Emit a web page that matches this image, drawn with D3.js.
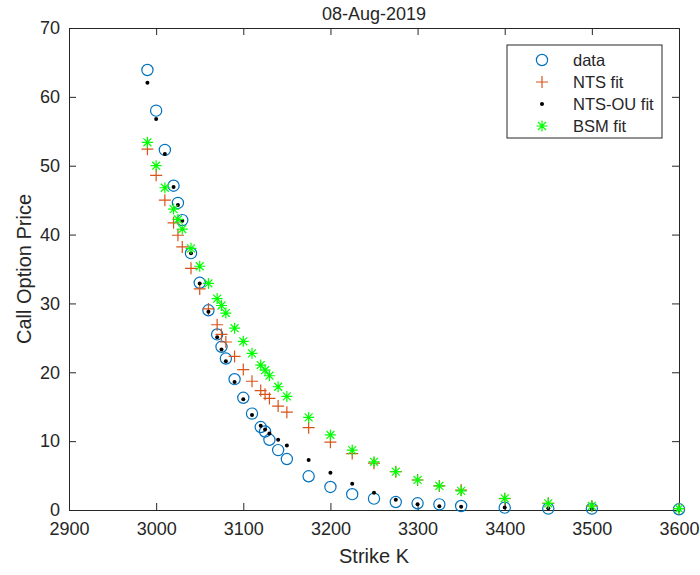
<!DOCTYPE html>
<html>
<head>
<meta charset="utf-8">
<script src="https://cdn.jsdelivr.net/npm/d3@7"></script>
<style>
  body { margin: 0; background: #fff; }
  text { font-family: "Liberation Sans", Arial, sans-serif; fill: #262626; }
</style>
</head>
<body>
<div id="chart"></div>
<script>
// strikes and prices
var strikes = [2990, 3000, 3010, 3020, 3025, 3030, 3040, 3050, 3060, 3070, 3075, 3080,
  3090, 3100, 3110, 3120, 3125, 3130, 3140, 3150, 3175, 3200, 3225, 3250, 3275, 3300,
  3325, 3350, 3400, 3450, 3500, 3600]
var dataPrice = [63.9, 58.0, 52.3, 47.1, 44.6, 42.1, 37.3, 33.0, 29.0, 25.5, 23.7, 22.0,
  19.0, 16.3, 14.0, 12.05, 11.4, 10.2, 8.7, 7.4, 4.9, 3.35, 2.3, 1.65, 1.16, 0.97,
  0.82, 0.58, 0.34, 0.2, 0.2, 0.1]
var ntsFit = [52.4, 48.6, 45.0, 41.7, 39.9, 38.2, 35.1, 32.1, 29.2, 26.9, 25.5, 24.4,
  22.3, 20.4, 18.7, 17.35, 16.8, 16.2, 15.1, 14.2, 11.95, 9.85, 8.2, 6.8, 5.57, 4.36,
  3.49, 2.9, 1.65, 0.97, 0.58, 0.19]
var ntsOuFit = [62.05, 56.8, 51.7, 46.9, 44.3, 42.0, 37.3, 32.9, 28.8, 25.1, 23.3, 21.6,
  18.6, 16.1, 13.8, 12.25, 11.7, 11.1, 10.2, 9.35, 7.25, 5.4, 3.8, 2.5, 1.5, 0.82,
  0.53, 0.48, 0.38, 0.24, 0.19, 0.05]
var bsmFit = [53.4, 50.0, 46.8, 43.7, 42.2, 40.8, 38.0, 35.4, 32.9, 30.7, 29.7, 28.6,
  26.4, 24.5, 22.75, 21.05, 20.3, 19.5, 17.9, 16.5, 13.45, 10.9, 8.7, 7.0, 5.57, 4.36,
  3.49, 2.78, 1.7, 0.97, 0.58, 0.19]
var xTicks = [2900, 3000, 3100, 3200, 3300, 3400, 3500, 3600]
var yTicks = [0, 10, 20, 30, 40, 50, 60, 70]
var legendNames = ["data", "NTS fit", "NTS-OU fit", "BSM fit"]

var W = 700, H = 575
var margin = {top: 28, right: 21, bottom: 65, left: 69}
var iw = W - margin.left - margin.right
var ih = H - margin.top - margin.bottom
var axisColor = "#262626"

var svg = d3.select("#chart").append("svg")
  .attr("width", W).attr("height", H)

var g = svg.append("g")
  .attr("transform", "translate(" + margin.left + "," + margin.top + ")")

var x = d3.scaleLinear().domain([2900, 3600]).range([0, iw])
var y = d3.scaleLinear().domain([0, 70]).range([ih, 0])

// axes with inward ticks on all 4 sides (matlab box on)
function styleAxis(sel) {
  sel.select(".domain").attr("stroke", axisColor)
  sel.selectAll(".tick line").attr("stroke", axisColor)
  sel.selectAll(".tick text").style("font-size", "18px").attr("fill", axisColor)
}
g.append("g").attr("transform", "translate(0," + ih + ")")
  .call(d3.axisBottom(x).tickValues(xTicks).tickFormat(d3.format("d"))
    .tickSize(-7).tickPadding(12).tickSizeOuter(0))
  .call(styleAxis)
g.append("g")
  .call(d3.axisLeft(y).tickValues(yTicks).tickSize(-7).tickPadding(9).tickSizeOuter(0))
  .call(styleAxis)
g.append("g")
  .call(d3.axisTop(x).tickValues(xTicks).tickSize(-7).tickSizeOuter(0).tickFormat(""))
  .call(styleAxis)
g.append("g").attr("transform", "translate(" + iw + ",0)")
  .call(d3.axisRight(y).tickValues(yTicks).tickSize(-7).tickSizeOuter(0).tickFormat(""))
  .call(styleAxis)

// marker painters
var blue = "#0072BD", orange = "#D95319", green = "#00FF00"
function drawCircle(sel, cx, cy) {
  sel.append("circle").attr("cx", cx).attr("cy", cy).attr("r", 5.6)
    .attr("fill", "none").attr("stroke", blue).attr("stroke-width", 1.2)
}
function drawPlus(sel, cx, cy) {
  var s = 6
  sel.append("path")
    .attr("d", "M" + (cx - s) + "," + cy + "H" + (cx + s) + "M" + cx + "," + (cy - s) + "V" + (cy + s))
    .attr("stroke", orange).attr("stroke-width", 1.2).attr("fill", "none")
}
function drawDot(sel, cx, cy) {
  sel.append("circle").attr("cx", cx).attr("cy", cy).attr("r", 2).attr("fill", "#000")
}
function drawStar(sel, cx, cy) {
  var s = 5.5, d = s * 0.72
  sel.append("path")
    .attr("d", "M" + (cx - s) + "," + cy + "H" + (cx + s) +
      "M" + cx + "," + (cy - s) + "V" + (cy + s) +
      "M" + (cx - d) + "," + (cy - d) + "L" + (cx + d) + "," + (cy + d) +
      "M" + (cx - d) + "," + (cy + d) + "L" + (cx + d) + "," + (cy - d))
    .attr("stroke", green).attr("stroke-width", 1.2).attr("fill", "none")
}

var series = [
  {vals: dataPrice, draw: drawCircle},
  {vals: ntsFit, draw: drawPlus},
  {vals: ntsOuFit, draw: drawDot},
  {vals: bsmFit, draw: drawStar}
]

series.forEach(function(s) {
  var layer = g.append("g")
  strikes.forEach(function(k, i) {
    s.draw(layer, x(k), y(s.vals[i]))
  })
})

// labels
svg.append("text").attr("x", margin.left + iw / 2).attr("y", 20)
  .attr("text-anchor", "middle").style("font-size", "18px").text("08-Aug-2019")
svg.append("text").attr("x", margin.left + iw / 2).attr("y", 563)
  .attr("text-anchor", "middle").style("font-size", "20px").text("Strike K")
svg.append("text")
  .attr("transform", "translate(31," + (margin.top + ih / 2) + ") rotate(-90)")
  .attr("text-anchor", "middle").style("font-size", "20px").text("Call Option Price")

// legend
var leg = svg.append("g")
leg.append("rect").attr("x", 507).attr("y", 45).attr("width", 155).attr("height", 93)
  .attr("fill", "#fff").attr("stroke", axisColor).attr("stroke-width", 1)
legendNames.forEach(function(name, i) {
  var ry = 60 + i * 22
  series[i].draw(leg, 542, ry)
  leg.append("text").attr("x", 573).attr("y", ry + 6)
    .style("font-size", "16.5px").text(name)
})
</script>
</body>
</html>
